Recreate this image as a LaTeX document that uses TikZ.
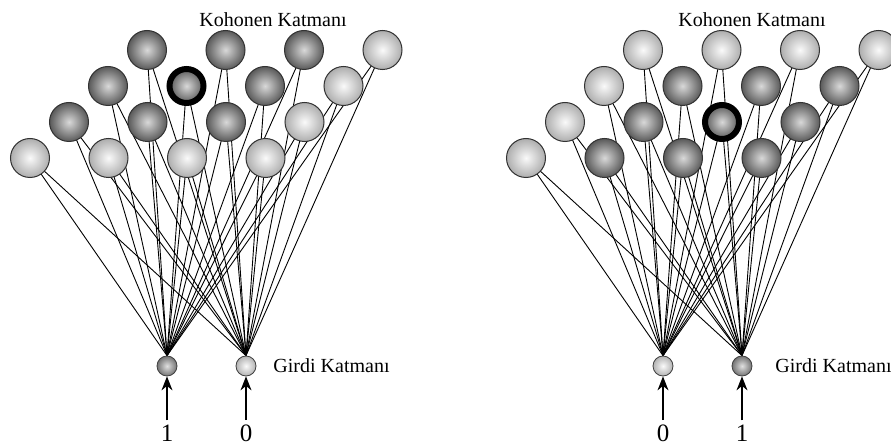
\documentclass[tikz,border=0pt]{standalone}
\usepackage{fontspec}
\setmainfont{Liberation Serif}
\usetikzlibrary{positioning,arrows.meta,backgrounds}

\begin{document}
\begin{tikzpicture}[x=0.5pt, y=-0.5pt,
    unit/.style = {circle, draw=black!80, line width=0.5pt, minimum size=19.5pt, inner sep=0pt, shading=radial},
    dark/.style = {unit, inner color=black!15, outer color=black!65},
    light/.style = {unit, inner color=black!2, outer color=black!32},
    winner/.style = {dark, draw=black, line width=3pt, minimum size=17pt},
    input/.style = {circle, draw=black!75, line width=0.4pt, minimum size=10pt, inner sep=0pt, shading=radial},
    bit1/.style = {input, inner color=black!12, outer color=black!55},
    bit0/.style = {input, inner color=black!2, outer color=black!30},
    digit/.style = {font=\fontsize{12.5}{14}\selectfont, inner sep=2pt},
    link/.style = {line width=0.45pt},
    feed/.style = {-{Stealth[length=7pt,width=5.5pt]}, line width=0.6pt}]

  \useasboundingbox (0,0) rectangle (891,444);

  % left map: input (1,0)
  \foreach \r/\row in {1/{dark,dark,dark,light}, 2/{dark,winner,dark,light},
                       3/{dark,dark,dark,light}, 4/{light,light,light,light}}
    \foreach \s [count=\c] in \row
      \node[\s] (a-\r-\c) at ({147+78.5*(\c-1)-39*(\r-1)}, {50+36*(\r-1)}) {};

  \node[bit1] (a-in1) at (167,366) {};
  \node[bit0] (a-in2) at (246,366) {};
  \node[digit] (a-x1) at (167,433) {1};
  \node[digit] (a-x2) at (246,433) {0};
  \draw[feed] (a-x1) -- (a-in1);
  \draw[feed] (a-x2) -- (a-in2);

  \node (a-kohonen) at (273,20) {Kohonen Katmanı};
  \node[right=5pt of a-in2] (a-girdi) {Girdi Katmanı};

  \begin{scope}[on background layer]
    \foreach \r in {1,...,4}
      \foreach \c in {1,...,4} {
        \draw[link] (a-\r-\c.center) -- (a-in1.north);
        \draw[link] (a-\r-\c.center) -- (a-in2.north);
      }
  \end{scope}

  % right map: input (0,1)
  \begin{scope}[xshift=248pt]
    \foreach \r/\row in {1/{light,light,light,light}, 2/{light,dark,dark,dark},
                         3/{light,dark,winner,dark}, 4/{light,dark,dark,dark}}
      \foreach \s [count=\c] in \row
        \node[\s] (b-\r-\c) at ({147+78.5*(\c-1)-39*(\r-1)}, {50+36*(\r-1)}) {};

    \node[bit0] (b-in1) at (167,366) {};
    \node[bit1] (b-in2) at (246,366) {};
    \node[digit] (b-x1) at (167,433) {0};
    \node[digit] (b-x2) at (246,433) {1};
    \draw[feed] (b-x1) -- (b-in1);
    \draw[feed] (b-x2) -- (b-in2);

    \node (b-kohonen) at (256,20) {Kohonen Katmanı};
    \node[right=8pt of b-in2] (b-girdi) {Girdi Katmanı};

    \begin{scope}[on background layer]
      \foreach \r in {1,...,4}
        \foreach \c in {1,...,4} {
          \draw[link] (b-\r-\c.center) -- (b-in1.north);
          \draw[link] (b-\r-\c.center) -- (b-in2.north);
        }
    \end{scope}
  \end{scope}

\end{tikzpicture}
\end{document}
